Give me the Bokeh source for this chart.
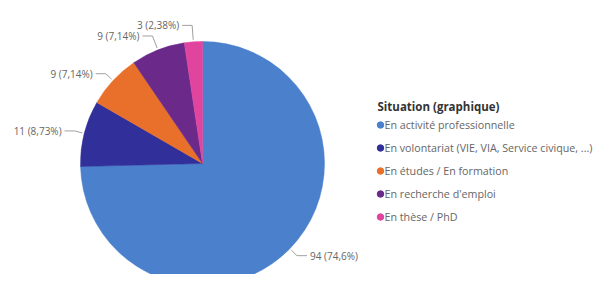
import math
from bokeh.plotting import figure
from bokeh.models import Range1d
from bokeh.core.properties import value
from bokeh.embed import file_html
from bokeh.resources import INLINE

# ---- data ----
categories = ["En activité professionnelle",
              "En volontariat (VIE, VIA, Service civique, ...)",
              "En études / En formation",
              "En recherche d'emploi",
              "En thèse / PhD"]
counts = [94, 11, 9, 9, 3]
percent_labels = ["74,6%", "8,73%", "7,14%", "7,14%", "2,38%"]
colors = ["#4a80cc", "#31309a", "#e8702a", "#6b2a8a", "#e0449e"]
legend_title = "Situation (graphique)"

# ---- layout ----
W, H = 604, 274
FONT = "Open Sans"
cx, cy = 202, 282 - 163       # data coords (y = 282 - screen y)
R = 122
leader_ext = [10, 10, 10, 15, 16.5]

p = figure(width=W, height=H, output_backend="svg", toolbar_location=None,
           x_range=Range1d(0, W), y_range=Range1d(282 - H, 282),
           x_axis_type=None, y_axis_type=None, min_border=0)
p.grid.visible = False
p.outline_line_color = None
p.background_fill_color = "white"
p.border_fill_color = "white"

total = sum(counts)
cum = 0.0
starts, ends, mids = [], [], []
for c in counts:
    a0 = cum / total * 2 * math.pi
    cum += c
    a1 = cum / total * 2 * math.pi
    starts.append(math.pi / 2 - a0)
    ends.append(math.pi / 2 - a1)
    mids.append((a0 + a1) / 2)

p.wedge(x=cx, y=cy, radius=R, start_angle=starts, end_angle=ends,
        direction="clock", fill_color=colors, line_color=colors, line_width=0.5)

# leader lines and labels
xs, ys = [], []
lx_l, ly_l, lt_l = [], [], []
lx_r, ly_r, lt_r = [], [], []
for i, th in enumerate(mids):
    dx, dy = math.sin(th), math.cos(th)
    p0 = (cx + (R + 2) * dx, cy + (R + 2) * dy)
    e = (cx + (R + leader_ext[i]) * dx, cy + (R + leader_ext[i]) * dy)
    side = 1 if dx >= 0 else -1
    t = (e[0] + side * 10, e[1])
    xs.append([p0[0], e[0], t[0]])
    ys.append([p0[1], e[1], t[1]])
    label = f"{counts[i]} ({percent_labels[i]})"
    if side > 0:
        lx_r.append(t[0] + 3); ly_r.append(t[1]); lt_r.append(label)
    else:
        lx_l.append(t[0] - 3); ly_l.append(t[1]); lt_l.append(label)

p.multi_line(xs=xs, ys=ys, line_color="#a0a0a0", line_width=1)
p.text(x=lx_r, y=ly_r, text=lt_r, text_font=value(FONT), text_font_size="10px",
       text_color="#666666", text_align="left", text_baseline="middle")
p.text(x=lx_l, y=ly_l, text=lt_l, text_font=value(FONT), text_font_size="10px",
       text_color="#666666", text_align="right", text_baseline="middle")

# legend (manual)
leg_x = 377
title_y = 282 - 106
item_y0 = 282 - 124.5
item_dy = 23
p.text(x=[leg_x], y=[title_y], text=[legend_title], text_font=value(FONT),
       text_font_size="11.5px", text_font_style="bold", text_color="#333333",
       text_align="left", text_baseline="middle")
iy = [item_y0 - i * item_dy for i in range(len(categories))]
p.scatter(x=[leg_x + 3] * len(categories), y=iy, size=6.5, marker="circle",
          fill_color=colors, line_color=colors)
p.text(x=[leg_x + 7] * len(categories), y=iy, text=categories,
       text_font=value(FONT), text_font_size="10.7px", text_color="#666666",
       text_align="left", text_baseline="middle")

open("out.html", "w").write(file_html(p, INLINE))
